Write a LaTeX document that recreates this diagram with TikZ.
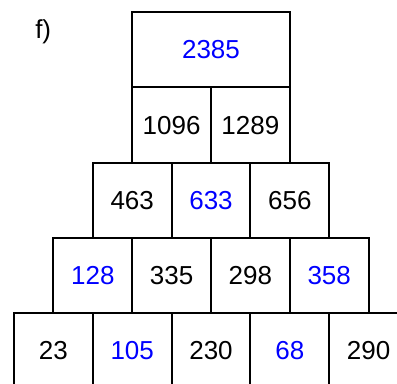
\documentclass[tikz,border=0pt]{standalone}
\usepackage{fontspec}
\setmainfont{Liberation Sans}
\usepackage{tikz}
\definecolor{givenblack}{RGB}{0,0,0}
\definecolor{solvedblue}{RGB}{0,0,255}
\tikzset{
  cell/.style={
    draw,
    line width=1.5pt,
    minimum width=59.1pt,
    minimum height=56.5pt,
    inner sep=0pt,
    outer sep=0pt,
    text=givenblack,
    font=\fontsize{19.5}{22}\selectfont
  },
  solvedcell/.style={cell,text=solvedblue},
  topcell/.style={solvedcell,minimum width=118.2pt},
  tasklabel/.style={anchor=base west,inner sep=0pt,font=\fontsize{19.5}{22}\selectfont},
}

\begin{document}
\begin{tikzpicture}[x=0.75pt,y=-0.75pt]
  \useasboundingbox (0,0) rectangle (397,383);
  \clip (0,0) rectangle (397,383);

  \node[tasklabel] (task) at (35,38) {f)};

  % bottom row
  \node[cell]       (b1) at (53.4,351) {23};
  \node[solvedcell] (b2) at (132.2,351) {105};
  \node[cell]       (b3) at (211,351) {230};
  \node[solvedcell] (b4) at (289.8,351) {68};
  \node[cell]       (b5) at (368.6,351) {290};

  % fourth row
  \node[solvedcell] (d1) at (92.8,275.7) {128};
  \node[cell]       (d2) at (171.6,275.7) {335};
  \node[cell]       (d3) at (250.4,275.7) {298};
  \node[solvedcell] (d4) at (329.2,275.7) {358};

  % third row
  \node[cell]       (c1) at (132.2,200.4) {463};
  \node[solvedcell] (c2) at (211,200.4) {633};
  \node[cell]       (c3) at (289.8,200.4) {656};

  % second row
  \node[cell] (s1) at (171.6,125.1) {1096};
  \node[cell] (s2) at (250.4,125.1) {1289};

  % top
  \node[topcell] (top) at (211,49.8) {2385};
\end{tikzpicture}
\end{document}
